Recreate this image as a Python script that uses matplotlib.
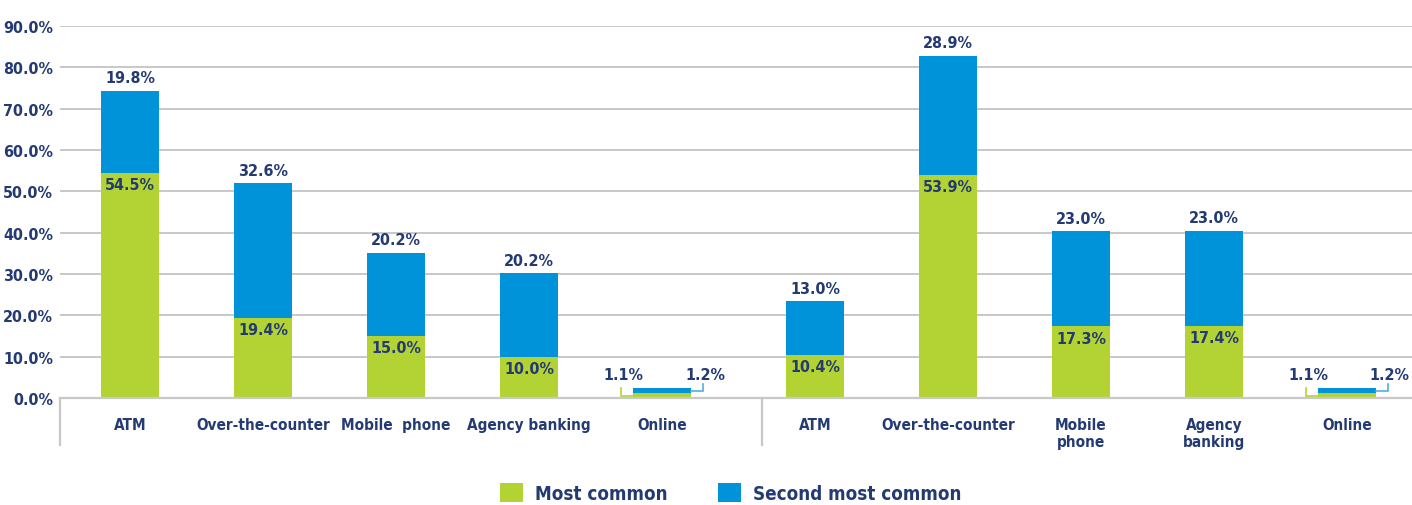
import matplotlib
matplotlib.use("Agg")
import matplotlib.pyplot as plt
from matplotlib.patches import Patch
from matplotlib import font_manager as fm
import numpy as np

# ---- data ----
categories_left = ["ATM", "Over-the-counter", "Mobile  phone", "Agency banking", "Online"]
categories_right = ["ATM", "Over-the-counter", "Mobile\nphone", "Agency\nbanking", "Online"]
most_left = [54.5, 19.4, 15.0, 10.0, 1.1]
second_left = [19.8, 32.6, 20.2, 20.2, 1.2]
most_right = [10.4, 53.9, 17.3, 17.4, 1.1]
second_right = [13.0, 28.9, 23.0, 23.0, 1.2]
yticks = [0, 10, 20, 30, 40, 50, 60, 70, 80, 90]
legend_labels = ["Most common", "Second most common"]

GREEN = "#b3d334"
BLUE = "#0093d9"
NAVY = "#233a73"
GRID = "#c8c8c8"

# pick a condensed bold font if one is installed
cond = [f for f in fm.fontManager.ttflist
        if ("condensed" in str(f.stretch).lower() or "narrow" in f.name.lower()
            or "Condensed" in f.fname or "Narrow" in f.fname)
        and f.weight in ("bold", 700, "heavy", 800)]
if cond:
    FP = fm.FontProperties(fname=cond[0].fname)
else:
    FP = fm.FontProperties(family="DejaVu Sans", weight="bold")

def fp(size):
    p = FP.copy()
    p.set_size(size)
    return p

fig = plt.figure(figsize=(14.12, 5.06), dpi=100)
W, H = 1412, 506
ax = fig.add_axes([60 / W, (H - 399) / H, (W - 60) / W, (399 - 27) / H])

n = len(categories_left)
group_offset = 5.15
x_left = np.arange(n)
x_right = np.arange(n) + group_offset
xs = np.concatenate([x_left, x_right])
most = np.array(most_left + most_right)
second = np.array(second_left + second_right)
cats = categories_left + categories_right
bw = 0.436

ax.set_xlim(-0.526, 9.639)
ax.set_ylim(0, 90)

for y in yticks[1:]:
    ax.axhline(y, color=GRID, lw=1.4, zorder=0)

ax.bar(xs, most, width=bw, color=GREEN, zorder=2)
ax.bar(xs, second, width=bw, bottom=most, color=BLUE, zorder=2)

LS = 11.5
for x, g, b in zip(xs, most, second):
    if g < 5:
        lx = x - bw / 2
        rx = x + bw / 2
        ax.plot([lx, lx - 0.09, lx - 0.09], [g * 0.5, g * 0.5, 2.4],
                color=GREEN, lw=1.2, zorder=3, solid_joinstyle="miter")
        ax.plot([rx, rx + 0.09, rx + 0.09], [g + b * 0.5, g + b * 0.5, 3.4],
                color="#4fb0e0", lw=1.2, zorder=3, solid_joinstyle="miter")
        ax.text(x - 0.293, 5.8, f"{g:.1f}%", ha="center", va="center",
                color=NAVY, fontproperties=fp(LS))
        ax.text(x + 0.323, 5.8, f"{b:.1f}%", ha="center", va="center",
                color=NAVY, fontproperties=fp(LS))
    else:
        ax.annotate(f"{b:.1f}%", (x, g + b), xytext=(0, 4), textcoords="offset points",
                    ha="center", va="bottom", color=NAVY, fontproperties=fp(LS))
        ax.annotate(f"{g:.1f}%", (x, g), xytext=(0, -3), textcoords="offset points",
                    ha="center", va="top", color=NAVY, fontproperties=fp(LS))

ax.set_yticks(yticks)
ax.set_yticklabels([f"{v:.1f}%" for v in yticks], color=NAVY, fontproperties=fp(LS))
ax.set_xticks(xs)
ax.set_xticklabels(cats, color=NAVY, fontproperties=fp(11), va="top", linespacing=1.1)
ax.tick_params(axis="x", length=0, pad=14)
ax.tick_params(axis="y", length=0, pad=5)

for s in ["top", "right", "left"]:
    ax.spines[s].set_visible(False)
ax.spines["bottom"].set_color(GRID)
ax.spines["bottom"].set_linewidth(1.6)

sep_depth = -(446 - 399) / (399 - 27)
trans = ax.get_xaxis_transform()
for xv in [-0.526, 4.75]:
    ax.plot([xv, xv], [0, sep_depth], transform=trans, color=GRID, lw=1.6,
            clip_on=False)

handles = [Patch(facecolor=GREEN), Patch(facecolor=BLUE)]
fig.legend(handles, legend_labels, loc="center", bbox_to_anchor=(0.5173, (H - 494) / H),
           ncol=2, frameon=False, handlelength=1.23, handleheight=1.17, handletextpad=0.64,
           columnspacing=2.67, prop=fp(13.5), labelcolor=NAVY)

fig.savefig("out.png", dpi=100)
